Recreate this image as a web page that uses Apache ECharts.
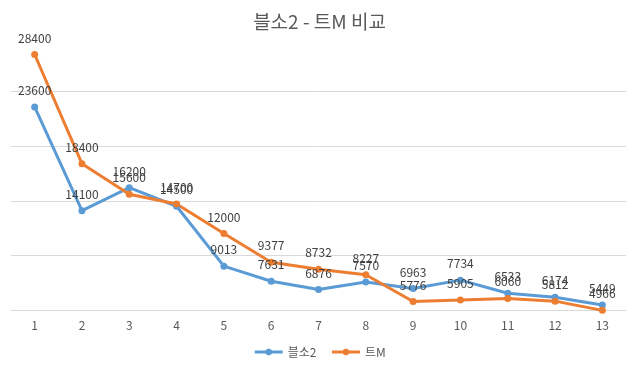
<!DOCTYPE html>
<html><head><meta charset="utf-8">
<script src="https://cdn.jsdelivr.net/npm/echarts@6/dist/echarts.min.js"></script>
<style>html,body{margin:0;padding:0;background:#fff}#c{width:639px;height:371px}</style>
</head><body><div id="c"></div>
<script>
const categories = ['1','2','3','4','5','6','7','8','9','10','11','12','13'];
const blade2 = [23600, 14100, 16200, 14500, 9013, 7631, 6876, 7570, 6963, 7734, 6533, 6174, 5449];
const trickM = [28400, 18400, 15600, 14700, 12000, 9377, 8732, 8227, 5776, 5905, 6060, 5812, 4966];
const seriesNames = ['블소2', '트M'];
const titleText = '블소2 - 트M 비교';

const font = '"Noto Sans CJK KR", "Noto Sans", sans-serif';
const chart = echarts.init(document.getElementById('c'));
const mk = (name, data, color) => ({
  name, type: 'line', data, clip: false,
  symbol: 'circle', symbolSize: 7,
  lineStyle: { width: 3, color }, itemStyle: { color },
  label: { show: true, position: 'top', distance: 7, color: '#404040', fontSize: 12, fontFamily: font },
  emphasis: { disabled: true }
});
chart.setOption({
  animation: false,
  title: { text: titleText, left: 'center', top: 7,
    textStyle: { fontFamily: font, fontSize: 19, fontWeight: 'normal', color: '#595959' } },
  legend: { bottom: 8, left: 'center', itemWidth: 28, itemHeight: 8, itemGap: 14,
    lineStyle: { width: 3 },
    textStyle: { fontFamily: font, fontSize: 12, color: '#595959' } },
  grid: { left: 11, right: 13, top: 37, bottom: 61, containLabel: false },
  xAxis: { type: 'category', data: categories, boundaryGap: true,
    axisLine: { lineStyle: { color: '#d9d9d9', width: 1 } }, axisTick: { show: false },
    axisLabel: { color: '#595959', fontFamily: font, fontSize: 12, margin: 9 } },
  yAxis: { type: 'value', min: 5000, max: 30000, interval: 5000,
    axisLabel: { show: false }, axisLine: { show: false }, axisTick: { show: false },
    splitLine: { showMaxLine: false, lineStyle: { color: '#d9d9d9', width: 1 } } },
  series: [mk(seriesNames[0], blade2, '#5B9BD5'), mk(seriesNames[1], trickM, '#ED7D31')]
});
</script></body></html>
